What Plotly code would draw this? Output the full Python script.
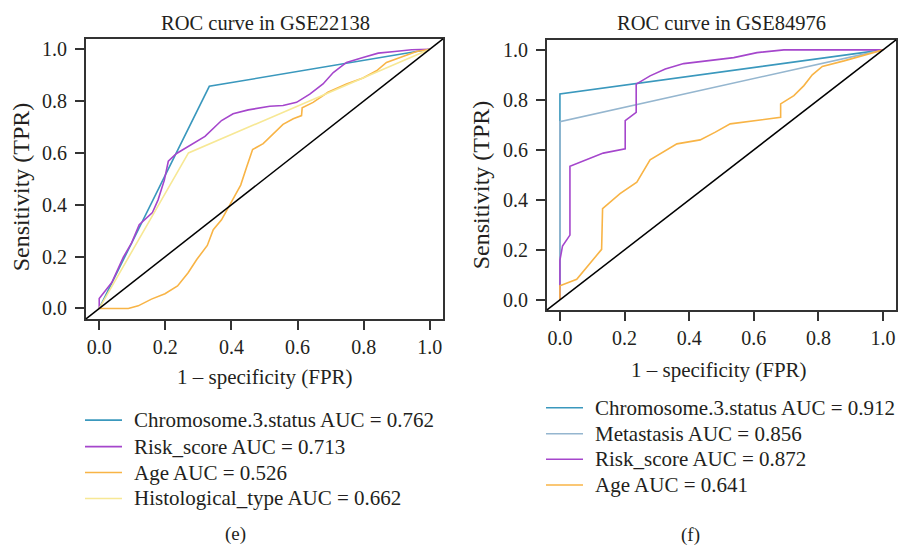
import plotly.graph_objects as go

# ---------------- Data: GSE22138 (panel e) ----------------
e_chr_fpr = [0.0, 0.333, 1.0]
e_chr_tpr = [0.0, 0.857, 1.0]

e_risk_fpr = [0.0, 0.0, 0.038, 0.073, 0.098, 0.121, 0.161, 0.178, 0.197, 0.209, 0.234, 0.320,
              0.370, 0.405, 0.451, 0.516, 0.556, 0.597, 0.637, 0.677, 0.708, 0.748, 0.798,
              0.844, 0.894, 0.945, 1.0]
e_risk_tpr = [0.0, 0.038, 0.100, 0.198, 0.253, 0.323, 0.370, 0.419, 0.495, 0.568, 0.598, 0.664,
              0.725, 0.751, 0.766, 0.780, 0.783, 0.795, 0.827, 0.866, 0.910, 0.949, 0.968,
              0.985, 0.991, 0.998, 1.0]

e_age_fpr = [0.0, 0.088, 0.118, 0.158, 0.199, 0.237, 0.269, 0.295, 0.327, 0.345, 0.370, 0.395,
             0.428, 0.446, 0.464, 0.496, 0.536, 0.556, 0.587, 0.612, 0.614, 0.647, 0.692,
             0.748, 0.798, 0.839, 0.869, 0.909, 0.960, 1.0]
e_age_tpr = [0.0, 0.0, 0.010, 0.036, 0.057, 0.087, 0.138, 0.189, 0.243, 0.304, 0.342, 0.400,
             0.476, 0.546, 0.613, 0.636, 0.687, 0.710, 0.732, 0.744, 0.774, 0.795, 0.834,
             0.866, 0.889, 0.917, 0.949, 0.968, 0.991, 1.0]

e_hist_fpr = [0.0, 0.270, 1.0]
e_hist_tpr = [0.0, 0.600, 1.0]

e_names = ["Chromosome.3.status AUC = 0.762", "Risk_score AUC = 0.713",
           "Age AUC = 0.526", "Histological_type AUC = 0.662"]

# ---------------- Data: GSE84976 (panel f) ----------------
f_chr_fpr = [0.0, 0.0, 1.0]
f_chr_tpr = [0.0, 0.824, 1.0]

f_met_fpr = [0.0, 0.0, 1.0]
f_met_tpr = [0.0, 0.713, 1.0]

f_risk_fpr = [0.0, 0.0, 0.008, 0.031, 0.031, 0.134, 0.202, 0.202, 0.236, 0.236, 0.279, 0.326,
              0.383, 0.538, 0.610, 0.693, 1.0]
f_risk_tpr = [0.0, 0.159, 0.215, 0.259, 0.534, 0.587, 0.604, 0.717, 0.750, 0.863, 0.896, 0.923,
              0.945, 0.969, 0.989, 1.0, 1.0]

f_age_fpr = [0.0, 0.0, 0.052, 0.093, 0.129, 0.132, 0.186, 0.238, 0.279, 0.362, 0.434, 0.481,
             0.527, 0.683, 0.683, 0.724, 0.755, 0.781, 0.812, 0.879, 0.931, 1.0]
f_age_tpr = [0.0, 0.056, 0.082, 0.146, 0.202, 0.365, 0.425, 0.471, 0.560, 0.624, 0.640, 0.671,
             0.704, 0.730, 0.784, 0.817, 0.857, 0.900, 0.934, 0.956, 0.976, 1.0]

f_names = ["Chromosome.3.status AUC = 0.912", "Metastasis AUC = 0.856",
           "Risk_score AUC = 0.872", "Age AUC = 0.641"]

ticks = [0.0, 0.2, 0.4, 0.6, 0.8, 1.0]
tick_text = ["0.0", "0.2", "0.4", "0.6", "0.8", "1.0"]

# ---------------- Styling ----------------
C_CHR = "#3a98bd"
C_RISK = "#a546cc"
C_AGE = "#f8b446"
C_HIST = "#f7e895"
C_MET = "#95b6cf"
FONT = "Liberation Serif"
TXT = "#231f20"

W, H = 898, 548


def px_x(p):
    return p / W


def px_y(p):
    return 1 - p / H


fig = go.Figure()


def add(x, y, name, color, xa, ya):
    fig.add_trace(go.Scatter(x=x, y=y, mode="lines", name=name,
                             line=dict(color=color, width=1.6),
                             xaxis=xa, yaxis=ya, showlegend=False))


e_series = [(e_chr_fpr, e_chr_tpr, C_CHR), (e_risk_fpr, e_risk_tpr, C_RISK),
            (e_age_fpr, e_age_tpr, C_AGE), (e_hist_fpr, e_hist_tpr, C_HIST)]
f_series = [(f_chr_fpr, f_chr_tpr, C_CHR), (f_met_fpr, f_met_tpr, C_MET),
            (f_risk_fpr, f_risk_tpr, C_RISK), (f_age_fpr, f_age_tpr, C_AGE)]

for (x, y, c), n in zip(e_series, e_names):
    add(x, y, n, c, "x", "y")
for (x, y, c), n in zip(f_series, f_names):
    add(x, y, n, c, "x2", "y2")

axis_common = dict(range=[-0.04, 1.04], tickvals=ticks, ticktext=tick_text,
                   showgrid=False, zeroline=False, showline=True, mirror=True,
                   linecolor="#333333", linewidth=1.8, ticks="outside", ticklen=9,
                   tickwidth=1.5, tickcolor="#333333",
                   tickfont=dict(family=FONT, size=20, color=TXT))
x_axis = dict(axis_common, ticklabelstandoff=0)
y_axis = dict(axis_common, ticklabelstandoff=4)

fig.update_layout(
    width=W, height=H,
    margin=dict(l=0, r=0, t=0, b=0),
    paper_bgcolor="white", plot_bgcolor="white",
    xaxis=dict(domain=[px_x(86), px_x(443)], anchor="y", **x_axis),
    yaxis=dict(domain=[px_y(319), px_y(38)], anchor="x", **y_axis),
    xaxis2=dict(domain=[px_x(547), px_x(896)], anchor="y2", **x_axis),
    yaxis2=dict(domain=[px_y(310), px_y(39)], anchor="x2", **y_axis),
    showlegend=False,
)

# Diagonal reference lines (y = x across the full panel)
for xr, yr in (("x domain", "y domain"), ("x2 domain", "y2 domain")):
    fig.add_shape(type="line", xref=xr, yref=yr, x0=0, y0=0, x1=1, y1=1,
                  line=dict(color="black", width=1.5), layer="above")


def ann(text, x, y, size=20, angle=0, xanchor="center"):
    fig.add_annotation(text=text, x=px_x(x), y=px_y(y), xref="paper", yref="paper",
                       showarrow=False, textangle=angle, xanchor=xanchor, yanchor="middle",
                       font=dict(family=FONT, size=size, color=TXT))


ann("ROC curve in GSE22138", 265, 22, size=20.5)
ann("ROC curve in GSE84976", 721, 22, size=20.5)
ann("1 – specificity (FPR)", 265, 377, size=21)
ann("1 – specificity (FPR)", 719, 370, size=21)
ann("Sensitivity (TPR)", 21, 187, size=24, angle=-90)
ann("Sensitivity (TPR)", 481, 185, size=24, angle=-90)
ann("(e)", 235, 535, size=19)
ann("(f)", 690, 536, size=19)


# Manual legends (swatch line + label)
def legend(series, names, x_line0, x_line1, x_text, rows):
    for (_, _, c), n, ry in zip(series, names, rows):
        fig.add_shape(type="line", xref="paper", yref="paper",
                      x0=px_x(x_line0), x1=px_x(x_line1), y0=px_y(ry), y1=px_y(ry),
                      line=dict(color=c, width=1.6))
        ann(n, x_text, ry, size=21, xanchor="left")


legend(e_series, e_names, 85, 122, 132, [420.7, 447.3, 473.3, 499.3])
legend(f_series, f_names, 546, 583, 593, [408.3, 434.3, 460.0, 485.7])

fig.write_html("out.html")
